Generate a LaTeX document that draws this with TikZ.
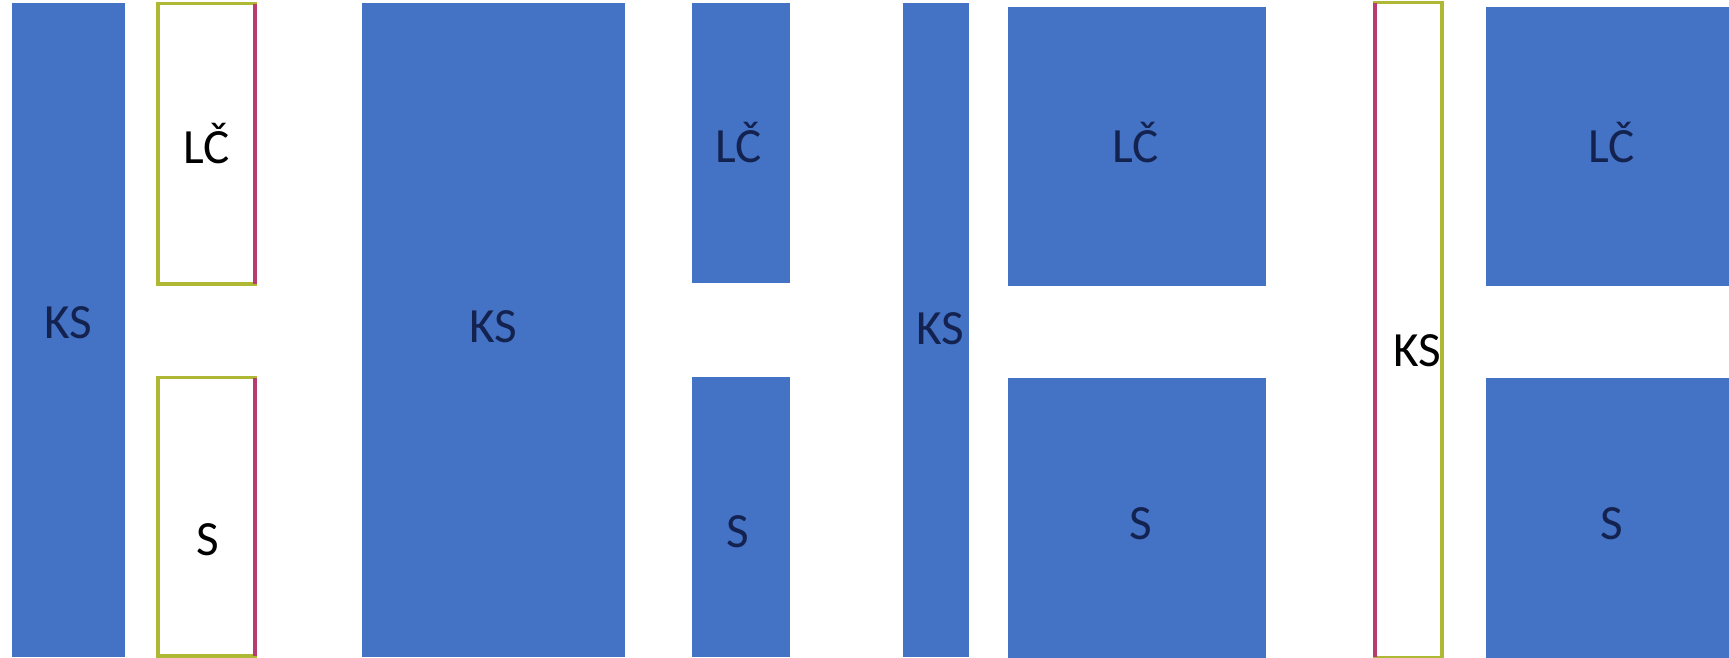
\documentclass[tikz,border=0pt]{standalone}
\usepackage{fontspec}
\setmainfont{Carlito}
\usetikzlibrary{positioning}
\definecolor{boxblue}{HTML}{4472C4}
\definecolor{navytxt}{HTML}{142250}
\definecolor{edgeolive}{HTML}{AEB834}
\definecolor{edgered}{HTML}{B83C70}

\begin{document}
\begin{tikzpicture}[x=0.01cm,y=-0.01cm,
  full/.style={draw=none,fill=boxblue,minimum height=#1,inner sep=0pt,outer sep=0pt},
  empty/.style={draw=edgeolive,line width=0.9pt,fill=white,minimum height=#1,inner sep=0pt,outer sep=0pt},
  redge/.style={draw=edgered,line width=1pt},
  lbl/.style={font=\fontsize{14}{16}\selectfont,anchor=base,inner sep=0pt,text=navytxt},
  lblk/.style={lbl,text=black}]

\useasboundingbox (0,0) rectangle (1729,658);

% ---------- panel 1 : ks full, parts empty ----------
\node[full=6.54cm,minimum width=1.13cm] (KS1) at (68.5,330) {};
\node[empty=2.80cm,minimum width=0.97cm] (LC1) at (206.5,144) {};
\node[empty=2.78cm,minimum width=0.97cm] (S1) at (206.5,517) {};
\draw[redge] (LC1.north east) -- (LC1.south east);
\draw[redge] (S1.north east) -- (S1.south east);
\node[lbl] (tKS1) at (68,339) {KS};
\node[lblk] (tLC1) at (207,164) {LČ};
\node[lblk] (tS1) at (208,556) {S};

% ---------- panel 2 : all full ----------
\node[full=6.54cm,minimum width=2.63cm] (KS2) at (493.5,330) {};
\node[full=2.80cm,minimum width=0.98cm] (LC2) at (741,143) {};
\node[full=2.80cm,minimum width=0.98cm] (S2) at (741,517) {};
\node[lbl] (tKS2) at (493,343) {KS};
\node[lbl] (tLC2) at (739,163) {LČ};
\node[lbl] (tS2) at (738,548) {S};

% ---------- panel 3 : narrow ks, wide parts ----------
\node[full=6.54cm,minimum width=0.66cm] (KS3) at (936,330) {};
\node[full=2.79cm,minimum width=2.58cm] (LC3) at (1137,146.5) {};
\node[full=2.80cm,minimum width=2.58cm] (S3) at (1137,518) {};
\node[lbl] (tKS3) at (940,345) {KS};
\node[lbl] (tLC3) at (1136,163) {LČ};
\node[lbl] (tS3) at (1141,540) {S};

% ---------- panel 4 : ks empty, wide parts ----------
\node[empty=6.54cm,minimum width=0.67cm] (KS4) at (1408.5,330) {};
\draw[redge] (KS4.north west) -- (KS4.south west);
\node[full=2.79cm,minimum width=2.54cm] (LC4) at (1613,146.5) {};
\node[full=2.80cm,minimum width=2.54cm] (S4) at (1613,518) {};
\node[lblk] (tKS4) at (1417,367) {KS};
\node[lbl] (tLC4) at (1612,163) {LČ};
\node[lbl] (tS4) at (1612,540) {S};
\end{tikzpicture}
\end{document}
